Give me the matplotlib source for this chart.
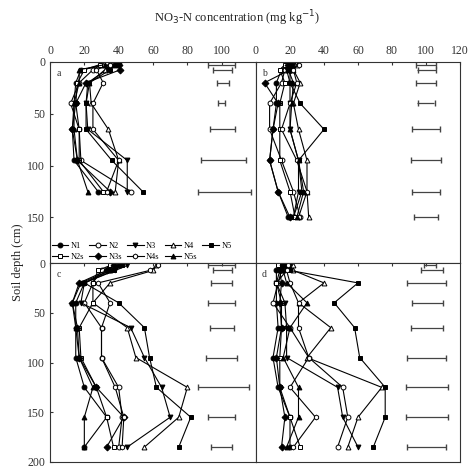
import matplotlib
matplotlib.use("Agg")
import matplotlib.pyplot as plt
import numpy as np

plt.rcParams['font.family'] = ['Liberation Serif', 'DejaVu Serif']
plt.rcParams['font.size'] = 8

SERIES = ["N1", "N2", "N3", "N4", "N5", "N2s", "N3s", "N4s", "N5s"]
MARKERS = {"N1": ("o", "k"), "N2": ("o", "w"), "N3": ("v", "k"),
           "N4": ("^", "w"), "N5": ("s", "k"), "N2s": ("s", "w"),
           "N3s": ("D", "k"), "N4s": ("h", "w"), "N5s": ("^", "k")}

depth_a = [2.5, 7.5, 20, 40, 65, 95, 125]
depth_b = [2.5, 7.5, 20, 40, 65, 95, 125, 150]
depth_cd = [2.5, 7.5, 20, 40, 65, 95, 125, 155, 185]

panel_a = {
    "N1": [35, 18, 15, 14, 13, 14, 28],
    "N2": [30, 25, 17, 12, 17, 18, 47],
    "N3": [40, 33, 22, 21, 22, 45, 45],
    "N4": [38, 32, 23, 24, 34, 40, 38],
    "N5": [38, 35, 23, 21, 21, 36, 54],
    "N2s": [29, 20, 16, 15, 17, 17, 31],
    "N3s": [40, 41, 21, 15, 13, 16, 35],
    "N4s": [35, 27, 31, 25, 25, 40, 33],
    "N5s": [32, 17, 17, 14, 14, 16, 22],
}
panel_b = {
    "N1": [18, 15, 12, 12, 10, 8, 13, 19],
    "N2": [20, 17, 15, 8, 8, 15, 22, 26],
    "N3": [22, 18, 20, 20, 20, 25, 25, 22],
    "N4": [24, 22, 26, 22, 25, 30, 30, 31],
    "N5": [20, 20, 20, 26, 40, 25, 27, 22],
    "N2s": [17, 14, 17, 14, 14, 14, 20, 23],
    "N3s": [19, 20, 5, 13, 10, 8, 13, 20],
    "N4s": [25, 22, 24, 20, 15, 24, 30, 25],
    "N5s": [21, 19, 22, 21, 20, 25, 28, 24],
}
panel_c = {
    "N1": [40, 35, 20, 15, 15, 15, 20, 33, 20],
    "N2": [38, 30, 25, 20, 30, 30, 40, 42, 40],
    "N3": [45, 38, 20, 18, 47, 55, 65, 70, 45],
    "N4": [62, 60, 35, 25, 45, 50, 80, 75, 55],
    "N5": [42, 37, 20, 40, 55, 58, 62, 82, 75],
    "N2s": [35, 28, 25, 25, 17, 18, 27, 33, 37],
    "N3s": [37, 33, 17, 13, 16, 17, 27, 43, 33],
    "N4s": [63, 58, 28, 35, 30, 30, 38, 43, 42],
    "N5s": [40, 35, 18, 13, 15, 17, 25, 20, 20],
}
panel_d = {
    "N1": [14, 12, 12, 12, 13, 10, 13, 20, 20],
    "N2": [16, 15, 13, 10, 20, 31, 51, 54, 48],
    "N3": [20, 18, 12, 17, 18, 18, 48, 51, 60],
    "N4": [22, 22, 40, 25, 44, 30, 74, 60, 54],
    "N5": [18, 20, 60, 46, 58, 61, 76, 76, 69],
    "N2s": [13, 14, 12, 15, 15, 14, 14, 20, 26],
    "N3s": [16, 14, 15, 14, 15, 12, 14, 17, 15],
    "N4s": [19, 18, 20, 25, 25, 31, 20, 35, 22],
    "N5s": [15, 16, 18, 30, 20, 16, 25, 25, 18],
}
# error bars: (left, right) ends at each depth
err_a = [(92, 108), (95, 106), (97, 104), (98, 102), (93, 108), (88, 114), (86, 117)]
err_b = [(94, 106), (95, 106), (94, 106), (95, 105), (92, 108), (91, 109), (92, 108), (93, 107)]
err_c = [(92, 108), (95, 106), (94, 106), (92, 108), (93, 107), (91, 109), (86, 116), (92, 108), (94, 106)]
err_d = [(99, 106), (97, 110), (89, 112), (92, 110), (91, 110), (89, 112), (88, 113), (88, 113), (89, 112)]

fig = plt.figure(figsize=(4.74, 4.74), dpi=100)
W, H = 474., 474.
L, R, T, B, MID_X, MID_Y = 50, 460, 62, 462, 256, 263
boxes = [
    (L, MID_Y, MID_X, T), (MID_X, MID_Y, R, T),
    (L, B, MID_X, MID_Y), (MID_X, B, R, MID_Y),
]
panels = [("a", depth_a, panel_a, err_a, 194), ("b", depth_b, panel_b, err_b, 194),
          ("c", depth_cd, panel_c, err_c, 200), ("d", depth_cd, panel_d, err_d, 200)]

for i, ((x0, y0, x1, y1), (lab, dep, data, err, ymax)) in enumerate(zip(boxes, panels)):
    ax = fig.add_axes([x0 / W, 1 - y0 / H, (x1 - x0) / W, (y0 - y1) / H])
    handles = {}
    for s in SERIES:
        m, fc = MARKERS[s]
        handles[s], = ax.plot(data[s], dep, color='k', lw=0.8, marker=m, mfc=fc,
                              mec='k', ms=3.5, mew=0.7, label=s)
    for d, (lo, hi) in zip(dep, err):
        ax.errorbar((lo + hi) / 2, d, xerr=(hi - lo) / 2, color='#444444',
                    lw=0.9, capsize=2.5, fmt='none')
    ax.set_xlim(0, 120)
    ax.set_ylim(ymax, 0)
    ax.tick_params(direction='in', length=2.5, top=True, bottom=False,
                   labeltop=(i < 2), labelbottom=False, labelleft=(i % 2 == 0),
                   left=(i % 2 == 0), right=False, labelsize=8.5, colors='#333333')
    ax.set_xticks([0, 20, 40, 60, 80, 100] + ([120] if i == 1 else []))
    ax.set_yticks([0, 50, 100, 150] + ([200] if i == 2 else []))
    for sp in ax.spines.values():
        sp.set_color('#333333')
    ax.text(0.03, 0.93, lab, transform=ax.transAxes, fontsize=7, color='#333333')
    if i == 0:
        # column-major order so the rows read N1..N5 / N2s..N5s
        order = ["N1", "N2s", "N2", "N3s", "N3", "N4s", "N4", "N5s", "N5"]
        ax.legend([handles[s] for s in order], order, ncol=5, loc='lower left',
                  bbox_to_anchor=(-0.02, -0.02), frameon=False, fontsize=6,
                  handlelength=2.0, columnspacing=0.6, handletextpad=0.3,
                  labelspacing=0.4, borderpad=0.2)

fig.text(0.5, 1 - 18 / H, "NO$_3$-N concentration (mg kg$^{-1}$)", ha='center',
         va='center', fontsize=9, color='#222222')
fig.text(18 / W, 1 - 262 / H, "Soil depth (cm)", rotation=90, ha='center',
         va='center', fontsize=9, color='#222222')

fig.savefig("out.png", dpi=100)
